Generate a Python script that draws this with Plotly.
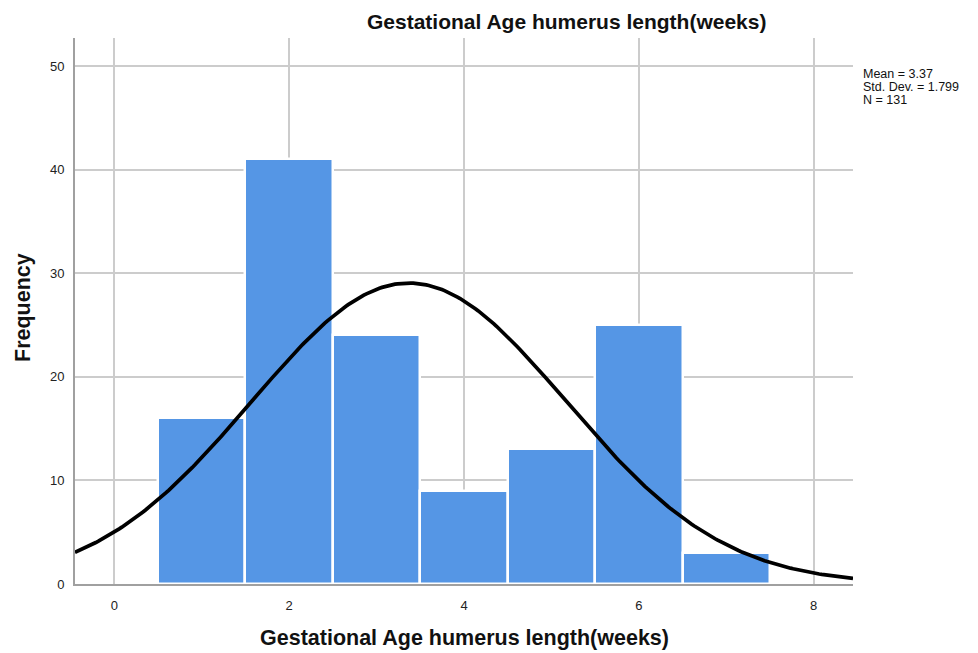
import numpy as np
import plotly.graph_objects as go

# Data
bin_centers = [1, 2, 3, 4, 5, 6, 7]
frequencies = [16, 41, 24, 9, 13, 25, 3]
mean_val = 3.37
std_val = 1.799
n_val = 131
bin_width = 1.0
x_ticks = [0, 2, 4, 6, 8]
y_ticks = [0, 10, 20, 30, 40, 50]
stats_lines = [f"Mean = {mean_val:.2f}", f"Std. Dev. = {std_val:.3f}", f"N = {n_val}"]

# Fitted normal curve from displayed statistics
xc = np.linspace(-0.45, 8.45, 300)
yc = n_val * bin_width / (std_val * np.sqrt(2 * np.pi)) * np.exp(-0.5 * ((xc - mean_val) / std_val) ** 2)

OFF = 8  # page body margin
W, H = 970, 645
L, R, T, B = 67, 125, 30, 69
pw, ph = W - L - R, H - T - B

fig = go.Figure()
fig.add_trace(go.Bar(
    x=bin_centers, y=frequencies, width=bin_width,
    marker=dict(color="#5596E5", line=dict(color="white", width=2.5)),
    showlegend=False, hoverinfo="x+y"))
fig.add_trace(go.Scatter(
    x=xc, y=yc, mode="lines", line=dict(color="black", width=3.7),
    showlegend=False, hoverinfo="skip"))

fig.update_layout(
    width=W, height=H,
    margin=dict(l=L, r=R, t=T, b=B),
    plot_bgcolor="white", paper_bgcolor="white",
    font=dict(family="Liberation Sans, Arial, sans-serif", color="#222"),
    bargap=0,
    xaxis=dict(range=[-0.45, 8.45], tickvals=x_ticks, showgrid=True, gridcolor="#cccccc",
               gridwidth=1.5, zeroline=False, showline=True, linecolor="#a0a0a0", linewidth=2,
               ticks="", tickfont=dict(size=13), ticklabelstandoff=8),
    yaxis=dict(range=[0, 52.7], tickvals=y_ticks, showgrid=True, gridcolor="#cccccc",
               gridwidth=1.5, zeroline=False, showline=True, linecolor="#a0a0a0", linewidth=2,
               ticks="", tickfont=dict(size=13), ticklabelstandoff=6),
)

def px_x(p):
    return (p - OFF - L) / pw

def px_y(p):
    return 1 - (p - OFF - T) / ph

annotations = [
    dict(text="<b>Gestational Age humerus length(weeks)</b>", x=px_x(566), y=px_y(21),
         xref="paper", yref="paper", showarrow=False, font=dict(size=21, color="#111"),
         xanchor="center", yanchor="middle"),
    dict(text="<b>Gestational Age humerus length(weeks)</b>", x=px_x(464), y=px_y(638),
         xref="paper", yref="paper", showarrow=False, font=dict(size=21.5, color="#111"),
         xanchor="center", yanchor="middle"),
    dict(text="<b>Frequency</b>", x=px_x(23), y=px_y(308), textangle=-90,
         xref="paper", yref="paper", showarrow=False, font=dict(size=21.5, color="#111"),
         xanchor="center", yanchor="middle"),
]
for i, line in enumerate(stats_lines):
    annotations.append(dict(text=line, x=px_x(861), y=px_y(74 + 13 * i),
                            xref="paper", yref="paper", showarrow=False,
                            font=dict(size=12.5, color="#111"),
                            xanchor="left", yanchor="middle", align="left"))
fig.update_layout(annotations=annotations)

fig.write_html("out.html")
